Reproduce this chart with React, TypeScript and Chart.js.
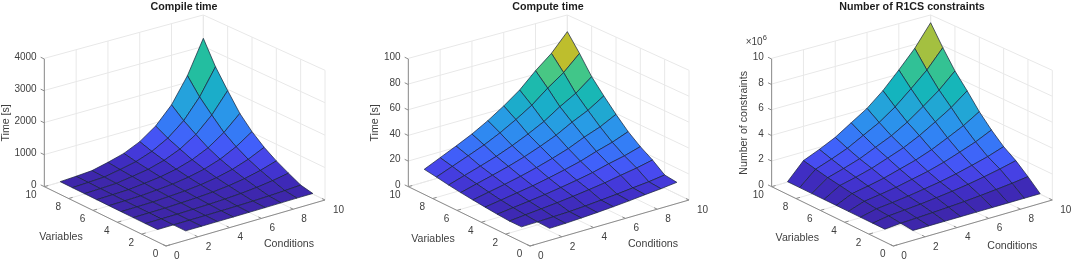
import React, { useEffect, useRef } from "react";
import { Chart, registerables } from "chart.js";

Chart.register(...registerables);

const gridValues = [1, 2, 3, 4, 5, 6, 7, 8, 9, 10];
const floorTicks = [0, 2, 4, 6, 8, 10];

// rows: Variables 1..10, columns: Conditions 1..10
const compileTime = [
  [NaN, 1, 1, 2, 3, 5, 8, 13, 17, 19],
  [1, 2, 3, 6, 10, 16, 27, 42, 65, 96],
  [1, 3, 6, 16, 28, 48, 78, 124, 192, 282],
  [2, 6, 11, 28, 48, 82, 134, 212, 327, 481],
  [3, 9, 16, 42, 72, 123, 200, 317, 490, 721],
  [4, 12, 23, 60, 103, 174, 285, 451, 698, 1026],
  [6, 17, 31, 82, 141, 240, 392, 621, 959, 1411],
  [8, 23, 43, 113, 194, 330, 539, 854, 1319, 1940],
  [10, 30, 55, 145, 250, 425, 695, 1100, 1700, 2500],
  [13, 38, 71, 186, 321, 545, 891, 1411, 2180, 3206],
];
const computeTime = [
  [NaN, 2, 2.3, 2.9, 3.6, 4.5, 5.5, 6.7, 7.8, 9.2],
  [2.1, 2.4, 2.8, 3.2, 4, 5, 6.1, 7.4, 8.6, 10.3],
  [2, 3.2, 4.3, 5.5, 6.9, 8.5, 10.3, 12.6, 14.7, 17.4],
  [2.7, 4.2, 5.7, 7.3, 9.2, 11.3, 13.7, 16.9, 19.6, 23.2],
  [3.6, 5.5, 7.5, 9.5, 12, 14.8, 17.9, 22, 25.6, 30.3],
  [4.6, 7.1, 9.6, 12.3, 15.5, 19.1, 23.2, 28.5, 33, 39.2],
  [5.7, 8.9, 12.1, 15.4, 19.3, 23.9, 29, 35.6, 41.3, 49],
  [7, 10.8, 14.6, 18.6, 23.4, 28.9, 35.1, 43.1, 50, 59.4],
  [8.6, 13.3, 18, 22.9, 28.8, 35.6, 43.2, 53, 61.6, 73],
  [10, 15.5, 21, 26.8, 33.7, 41.6, 50.5, 62, 72, 85.4],
];
const constraintsMillions = [
  [NaN, 0.03, 0.03, 0.03, 0.03, 0.03, 0.03, 0.03, 0.03, 0.03],
  [0.03, 0.13, 0.18, 0.24, 0.31, 0.39, 0.49, 0.61, 0.74, 0.9],
  [0.03, 0.24, 0.34, 0.44, 0.58, 0.73, 0.91, 1.14, 1.39, 1.69],
  [0.03, 0.33, 0.46, 0.61, 0.8, 1, 1.26, 1.57, 1.9, 2.32],
  [0.03, 0.45, 0.63, 0.83, 1.09, 1.36, 1.71, 2.14, 2.59, 3.16],
  [0.03, 0.59, 0.82, 1.08, 1.43, 1.78, 2.23, 2.8, 3.39, 4.13],
  [0.03, 0.76, 1.05, 1.39, 1.83, 2.28, 2.87, 3.59, 4.35, 5.3],
  [0.03, 0.91, 1.27, 1.67, 2.21, 2.75, 3.46, 4.33, 5.25, 6.39],
  [0.03, 1.11, 1.54, 2.03, 2.68, 3.33, 4.19, 5.25, 6.36, 7.75],
  [0.03, 1.32, 1.84, 2.42, 3.2, 3.97, 5, 6.26, 7.59, 9.24],
];
const compileTicks = [0, 1000, 2000, 3000, 4000];
const computeTicks = [0, 20, 40, 60, 80, 100];
const constraintTicks = [0, 2, 4, 6, 8, 10];

const colorStops: [number, number, number, number][] = [
  [0, 62, 38, 168],
  [0.05, 62, 42, 185],
  [0.1, 68, 55, 215],
  [0.15, 72, 75, 240],
  [0.2, 65, 95, 250],
  [0.3, 50, 130, 245],
  [0.4, 40, 155, 230],
  [0.45, 35, 165, 215],
  [0.55, 20, 180, 190],
  [0.65, 35, 190, 160],
  [0.73, 75, 200, 130],
  [0.85, 190, 190, 45],
  [1, 250, 250, 20],
];

function colorAt(t: number) {
  const v = Math.max(0, Math.min(1, t));
  for (let i = 1; i < colorStops.length; i++) {
    if (v <= colorStops[i][0]) {
      const a = colorStops[i - 1];
      const b = colorStops[i];
      const f = (v - a[0]) / (b[0] - a[0]);
      const c = [1, 2, 3].map((k) => Math.round(a[k] + (b[k] - a[k]) * f));
      return `rgb(${c[0]},${c[1]},${c[2]})`;
    }
  }
  return "rgb(250,250,20)";
}

type Panel = {
  title: string;
  zTitle: string;
  rows: number[][];
  zTicks: number[];
  zMax: number;
  colorMax: number;
  left: number;
  width: number;
  originX: number;
  varLabel: [number, number];
  condLabel: [number, number];
  zLabelDx: number;
  exponent?: boolean;
};

const panels: Panel[] = [
  { title: "Compile time", zTitle: "Time [s]", rows: compileTime, zTicks: compileTicks, zMax: 4000, colorMax: 3686, left: 0, width: 368, originX: 166, varLabel: [-105, -9], condLabel: [123, -2], zLabelDx: -38.5 },
  { title: "Compute time", zTitle: "Time [s]", rows: computeTime, zTicks: computeTicks, zMax: 100, colorMax: 85.9, left: 368, width: 360, originX: 530, varLabel: [-97, -7], condLabel: [123, -2], zLabelDx: -33 },
  { title: "Number of R1CS constraints", zTitle: "Number of constraints", rows: constraintsMillions, zTicks: constraintTicks, zMax: 10, colorMax: 9.4, left: 732, width: 360, originX: 893.3, varLabel: [-96, -8], condLabel: [119, 0], zLabelDx: -28, exponent: true },
];

const UX = [47.7 / 3, -13.8 / 3];
const UY = [-36.5 / 3, -17.8 / 3];
const ORIGIN_Y = 246;
const Z_SPAN = 383 / 3;
const TITLE_H = 10.7 * 1.2 + 1;

function project(p: Panel, x: number, y: number, z: number) {
  return {
    x: p.originX + UX[0] * x + UY[0] * y,
    y: ORIGIN_Y + UX[1] * x + UY[1] * y - (Z_SPAN * z) / p.zMax,
  };
}

// the walls foreshorten slightly towards the back corner
function wallPoint(p: Panel, x: number, y: number, z: number) {
  const span = 125.7 + 0.26 * (10 - x) + 0.4 * (10 - y);
  const base = project(p, x, y, 0);
  return { x: base.x, y: base.y - (span * z) / p.zMax };
}

function lineSet(points: { x: number; y: number }[], color: string, width: number) {
  return {
    type: "line" as const,
    data: points,
    borderColor: color,
    borderWidth: width,
    pointRadius: 0,
    fill: false,
    tension: 0,
  };
}

function buildDatasets(p: Panel) {
  const near: any[] = [];
  const n = gridValues.length;
  // nearest cell first: Chart.js paints the last dataset first
  for (let s = 0; s <= 2 * n - 4; s++) {
    for (let i = 0; i < n - 1; i++) {
      const j = s - i;
      if (j < 0 || j >= n - 1) continue;
      const corners = [
        [i, j],
        [i + 1, j],
        [i + 1, j + 1],
        [i, j + 1],
      ];
      const zs = corners.map(([a, b]) => p.rows[b][a]);
      if (zs.some((v) => Number.isNaN(v))) continue;
      const mean = zs.reduce((t, v) => t + v, 0) / 4;
      const pts = corners.map(([a, b]) => project(p, gridValues[a], gridValues[b], p.rows[b][a]));
      pts.push(pts[0]);
      near.push({
        type: "line" as const,
        data: pts,
        borderColor: "rgba(25,35,60,0.9)",
        borderWidth: 0.8,
        backgroundColor: colorAt(mean / p.colorMax),
        pointRadius: 0,
        fill: "shape",
        tension: 0,
      });
    }
  }
  const back: any[] = [];
  const axis = "#8c8c8c";
  const grid = "#e8e8e8";
  const top = p.zMax;
  // axes and ticks
  back.push(lineSet([project(p, 0, 0, 0), project(p, 10, 0, 0)], axis, 1));
  back.push(lineSet([project(p, 0, 0, 0), project(p, 0, 10, 0)], axis, 1));
  back.push(lineSet([project(p, 0, 10, 0), project(p, 0, 10, top)], axis, 1));
  floorTicks.forEach((t) => {
    back.push(lineSet([project(p, t, 0, 0), project(p, t, 0.25, 0)], axis, 1));
    back.push(lineSet([project(p, 0, t, 0), project(p, 0.25, t, 0)], axis, 1));
  });
  p.zTicks.forEach((t) => {
    back.push(lineSet([project(p, 0, 10, t), project(p, 0, 10.3, t)], axis, 1));
  });
  // grid on the floor and the two back walls
  floorTicks.forEach((t) => {
    back.push(lineSet([project(p, t, 0, 0), project(p, t, 10, 0), wallPoint(p, t, 10, top)], grid, 1));
    back.push(lineSet([project(p, 0, t, 0), project(p, 10, t, 0), wallPoint(p, 10, t, top)], grid, 1));
  });
  p.zTicks.forEach((t) => {
    back.push(lineSet([wallPoint(p, 0, 10, t), wallPoint(p, 10, 10, t), wallPoint(p, 10, 0, t)], grid, 1));
  });
  return [...near, ...back];
}

function labelsPlugin(p: Panel) {
  return {
    id: "surfaceLabels",
    afterDraw(chart: any) {
      const { ctx, scales } = chart;
      const sx = (v: number) => scales.x.getPixelForValue(v);
      const sy = (v: number) => scales.y.getPixelForValue(v);
      const text = (s: string, x: number, y: number, align: CanvasTextAlign, size: number, rotate = 0) => {
        ctx.save();
        ctx.translate(sx(x), sy(y));
        ctx.rotate(rotate);
        ctx.font = `${size}px "Liberation Sans", Arial, sans-serif`;
        ctx.fillStyle = "#404040";
        ctx.textAlign = align;
        ctx.textBaseline = "middle";
        ctx.fillText(s, 0, 0);
        ctx.restore();
      };
      floorTicks.forEach((t) => {
        const a = project(p, 0, t, 0);
        text(String(t), a.x - 7.7, a.y + 8.7, "right", 10);
        const b = project(p, t, 0, 0);
        text(String(t), b.x + 8, b.y + 10, "left", 10);
      });
      p.zTicks.forEach((t) => {
        const a = project(p, 0, 10, t);
        text(String(t), a.x - 7.7, a.y - 1.7, "right", 10);
      });
      text("Variables", p.originX + p.varLabel[0], ORIGIN_Y + p.varLabel[1], "center", 10.6);
      text("Conditions", p.originX + p.condLabel[0], ORIGIN_Y + p.condLabel[1], "center", 10.6);
      const zBase = project(p, 0, 10, p.zMax / 2);
      text(p.zTitle, zBase.x + p.zLabelDx, zBase.y, "center", 10.6, -Math.PI / 2);
      if (p.exponent) {
        const e = project(p, 0, 10, p.zMax);
        text("×10", e.x - 26, e.y - 17, "left", 10);
        text("6", e.x - 9, e.y - 21, "left", 7.5);
      }
    },
  };
}

function SurfacePanel({ panel }: { panel: Panel }) {
  const ref = useRef<HTMLCanvasElement>(null);
  useEffect(() => {
    const chart = new Chart(ref.current!, {
      type: "line",
      data: { datasets: buildDatasets(panel) },
      plugins: [labelsPlugin(panel)],
      options: {
        animation: false,
        responsive: false,
        layout: { padding: 0 },
        parsing: true,
        plugins: {
          legend: { display: false },
          tooltip: { enabled: false },
          title: {
            display: true,
            text: panel.title,
            color: "#1c1c1c",
            padding: { top: 1, bottom: 0 },
            font: { family: '"Liberation Sans", Arial, sans-serif', size: 10.7, weight: "bold", lineHeight: 1.2 },
          },
        },
        scales: {
          x: { type: "linear", display: false, min: panel.left, max: panel.left + panel.width },
          y: { type: "linear", display: false, reverse: true, min: TITLE_H, max: 261 },
        },
      },
    } as any);
    return () => chart.destroy();
  }, [panel]);
  return (
    <canvas
      ref={ref}
      width={panel.width}
      height={261}
      style={{ position: "absolute", left: panel.left, top: 0, width: panel.width, height: 261, filter: "blur(0.35px)" }}
    />
  );
}

export default function App() {
  useEffect(() => {
    document.body.style.margin = "0";
  }, []);
  return (
    <div style={{ position: "relative", width: 1072, height: 261, overflow: "hidden", background: "#fff" }}>
      {panels.map((p) => (
        <SurfacePanel key={p.title} panel={p} />
      ))}
    </div>
  );
}
